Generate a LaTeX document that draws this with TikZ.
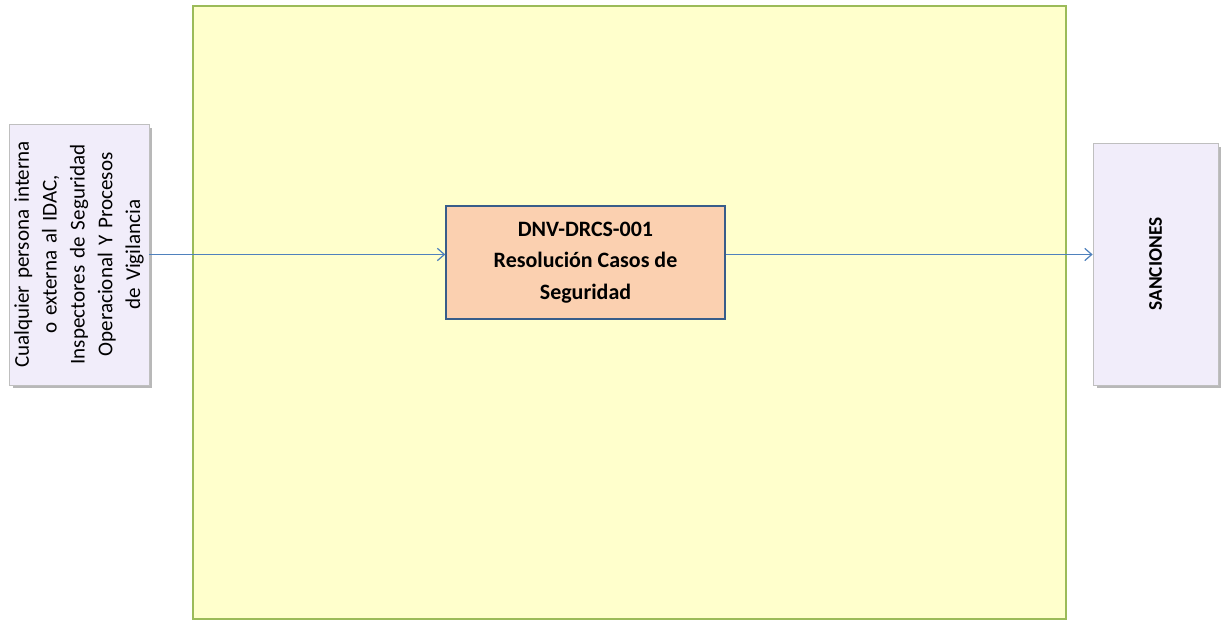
\documentclass[tikz,border=0pt]{standalone}
\usepackage{fontspec}
\setmainfont{Carlito}
\usetikzlibrary{positioning,shapes,arrows.meta,shadows}

\definecolor{areafill}{RGB}{255,255,204}
\definecolor{areaedge}{RGB}{155,187,89}
\definecolor{lavbox}{RGB}{241,237,250}
\definecolor{procfill}{RGB}{251,208,176}
\definecolor{procedge}{RGB}{56,93,138}
\definecolor{flowblue}{RGB}{79,129,189}

\tikzset{
  sidebox/.style={draw=gray!50,fill=lavbox,rotate=90,inner sep=3pt,
    drop shadow={shadow xshift=2pt,shadow yshift=-2pt,fill=gray!70,opacity=0.8}},
  procbox/.style={draw=procedge,fill=procfill,line width=0.8pt,align=center,
    font=\fontsize{12.5}{18}\selectfont\bfseries},
  flow/.style={draw=flowblue,line width=0.7pt,-{Straight Barb[length=4pt,width=7pt]}}
}

\begin{document}
\begin{tikzpicture}[x=0.02cm,y=-0.02cm]
\useasboundingbox (0,0) rectangle (1221,621);

% area of the process
\draw[areaedge,fill=areafill,line width=1pt] (193,6) rectangle (1066,619);

\node[sidebox,minimum width=5.22cm,minimum height=2.76cm,text width=5cm,align=center,
  font=\fontsize{12}{15.8}\selectfont] (src) at (79,254.5)
  {Cualquier persona interna\\ o externa al IDAC,\\ Inspectores de Seguridad\\
   Operacional Y Procesos\\ de Vigilancia};

\node[procbox,minimum width=5.58cm,minimum height=2.26cm] (dnv) at (585.5,262.5)
  {DNV-DRCS-001\\ Resolución Casos de\\ Seguridad};

\node[sidebox,minimum width=4.84cm,minimum height=2.5cm,
  font=\fontsize{11}{12}\selectfont\bfseries] (sanc) at (1155.5,264) {SANCIONES};

\draw[flow] (src.south) -- (src.south -| dnv.west);
\draw[flow] (dnv.east |- src.south) -- (sanc.north |- src.south);

\end{tikzpicture}
\end{document}
